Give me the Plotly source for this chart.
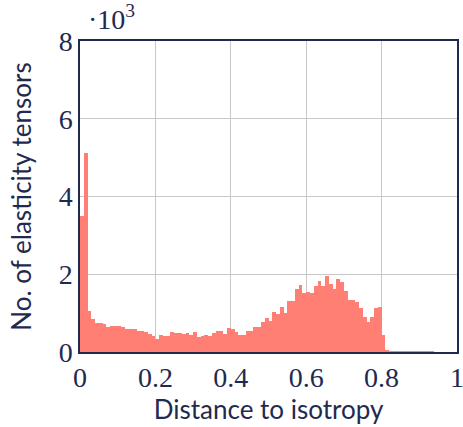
import numpy as np
import plotly.graph_objects as go

# Histogram of distance to isotropy, bin width 0.01, counts in thousands
bin_width = 0.01
bin_left_edges = [round(i * 0.01, 2) for i in range(100)]
counts_thousands = [
    3.5, 5.13, 1.06, 0.85, 0.75, 0.75, 0.72, 0.65, 0.67, 0.67,
    0.67, 0.65, 0.60, 0.60, 0.58, 0.55, 0.55, 0.52, 0.47, 0.40,
    0.34, 0.45, 0.42, 0.41, 0.51, 0.50, 0.50, 0.47, 0.50, 0.43,
    0.51, 0.39, 0.40, 0.45, 0.40, 0.50, 0.54, 0.54, 0.47, 0.63,
    0.60, 0.52, 0.45, 0.45, 0.54, 0.55, 0.65, 0.65, 0.78, 0.87,
    0.81, 1.04, 0.98, 1.17, 1.01, 1.31, 1.31, 1.61, 1.72, 1.51,
    1.55, 1.51, 1.71, 1.83, 1.71, 1.96, 1.74, 1.61, 1.89, 1.81,
    1.58, 1.35, 1.35, 1.28, 1.12, 0.89, 0.78, 0.89, 1.12, 1.15,
    0.44, 0.03, 0.02, 0.01, 0.01, 0.01, 0.01, 0.01, 0.01, 0.01,
    0.01, 0.01, 0.01, 0.01, 0.0, 0.0, 0.0, 0.0, 0.0, 0.0,
]
x_ticks = [0, 0.2, 0.4, 0.6, 0.8, 1]
x_tick_labels = ["0", "0.2", "0.4", "0.6", "0.8", "1"]
y_ticks = [0, 2, 4, 6, 8]
y_tick_labels = ["0", "2", "4", "6", "8"]

navy = "#1f2a50"
serif = "Liberation Serif"
sans = "Lato"

fig = go.Figure()
fig.add_trace(go.Bar(
    x=[e + bin_width / 2 for e in bin_left_edges],
    y=counts_thousands,
    width=bin_width,
    marker=dict(color="#ff7f74", line=dict(width=0)),
    hoverinfo="x+y",
))

fig.update_layout(
    width=463, height=427,
    margin=dict(l=80, r=6, t=41, b=75),
    plot_bgcolor="white", paper_bgcolor="white",
    showlegend=False,
    bargap=0,
    xaxis=dict(
        range=[0, 1], tickvals=x_ticks, ticktext=x_tick_labels,
        showgrid=True, gridcolor="#c8c8c8", gridwidth=1,
        showline=True, linecolor=navy, linewidth=1.5, mirror=True,
        ticks="", zeroline=False, automargin=False, ticklabeloverflow="allow",
        tickfont=dict(family=serif, size=28, color=navy),
        title=dict(text="Distance to isotropy", font=dict(family=sans, size=26, color=navy), standoff=6),
    ),
    yaxis=dict(
        range=[0, 8], tickvals=y_ticks, ticktext=y_tick_labels,
        showgrid=True, gridcolor="#c8c8c8", gridwidth=1,
        showline=True, linecolor=navy, linewidth=1.5, mirror=True,
        ticks="", zeroline=False, automargin=False, ticklabeloverflow="allow",
        tickfont=dict(family=serif, size=28, color=navy),
        title=dict(text="No. of elasticity tensors", font=dict(family=sans, size=26, color=navy), standoff=20),
    ),
    annotations=[dict(
        x=0, y=1, xref="paper", yref="paper", xanchor="left", yanchor="bottom",
        xshift=6, yshift=4, showarrow=False,
        text="·10<sup>3</sup>", font=dict(family=serif, size=28, color=navy),
    )],
)

fig.write_html(
    "out.html",
    config={"displayModeBar": False},
    post_script="document.body.style.margin='0';document.body.style.overflow='hidden';",
)
